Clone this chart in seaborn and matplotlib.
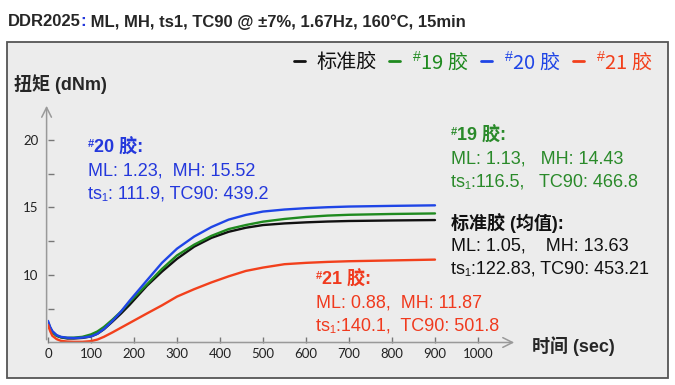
import matplotlib
matplotlib.use("Agg")
import pandas as pd
import seaborn as sns
import matplotlib.pyplot as plt
from matplotlib.patches import Rectangle

# time (s) and torque (dNm)
time_s = [0, 5, 10, 20, 30, 45, 60, 80, 100, 115, 130, 150, 170, 190, 210,
          230, 265, 300, 340, 380, 420, 460, 500, 550, 600, 650, 700, 800, 900]
torque_std = [6.5, 6.1, 5.8, 5.5, 5.38, 5.3, 5.3, 5.34, 5.45, 5.65, 5.98, 6.55, 7.15, 7.8, 8.5,
              9.2, 10.25, 11.2, 12.1, 12.75, 13.2, 13.5, 13.7, 13.82, 13.9, 13.96, 14.0, 14.04, 14.07]
torque_19 = [6.3, 6.0, 5.75, 5.5, 5.4, 5.35, 5.36, 5.42, 5.6, 5.82, 6.15, 6.7, 7.3, 8.0, 8.65,
             9.3, 10.45, 11.45, 12.25, 12.9, 13.4, 13.7, 13.95, 14.15, 14.3, 14.4, 14.46, 14.52, 14.56]
torque_20 = [6.6, 6.15, 5.85, 5.55, 5.42, 5.35, 5.33, 5.36, 5.45, 5.65, 6.0, 6.6, 7.3, 8.1, 8.85,
             9.6, 10.9, 11.95, 12.85, 13.55, 14.1, 14.45, 14.7, 14.85, 14.95, 15.02, 15.07, 15.12, 15.16]
torque_21 = [6.3, 5.85, 5.5, 5.25, 5.12, 5.07, 5.05, 5.05, 5.1, 5.22, 5.42, 5.75, 6.1, 6.45, 6.8,
             7.15, 7.75, 8.4, 8.95, 9.45, 9.9, 10.3, 10.55, 10.8, 10.9, 10.97, 11.02, 11.08, 11.14]

series_names = ["标准胶", "${}^{\\#}$19 胶", "${}^{\\#}$20 胶", "${}^{\\#}$21 胶"]
series_colors = ["#111111", "#1f8a1f", "#1f45e6", "#f2401c"]

x_ticks = [0, 100, 200, 300, 400, 500, 600, 700, 800, 900, 1000]
y_ticks = [7.5, 10, 12.5, 15, 17.5, 20]
y_tick_labels = ["", "10", "", "15", "", "20"]

blocks = [
    # (x px, y px of first line, color, lines) -- a leading "#" is drawn as superscript
    (88, 148, "#2438dc", ["#20 胶:", "ML: 1.23,  MH: 15.52", "ts₁: 111.9, TC90: 439.2"]),
    (451, 136, "#2a8a2a", ["#19 胶:", "ML: 1.13,   MH: 14.43", "ts₁:116.5,   TC90: 466.8"]),
    (451, 223, "#111111", ["标准胶 (均值):", "ML: 1.05,    MH: 13.63", "ts₁:122.83, TC90: 453.21"]),
    (316, 280, "#f03a1e", ["#21 胶:", "ML: 0.88,  MH: 11.87", "ts₁:140.1,  TC90: 501.8"]),
]

frames = []
for name, vals in zip(series_names, [torque_std, torque_19, torque_20, torque_21]):
    frames.append(pd.DataFrame({"time": time_s, "torque": vals, "sample": name}))
df = pd.concat(frames, ignore_index=True)

sns.set_style("white")
plt.rcParams['font.family'] = ['Liberation Sans', 'Noto Sans CJK SC', 'DejaVu Sans']
plt.rcParams['mathtext.fontset'] = 'custom'
plt.rcParams['mathtext.rm'] = 'Liberation Sans'
plt.rcParams['mathtext.it'] = 'Liberation Sans:italic'
plt.rcParams['mathtext.bf'] = 'Liberation Sans:bold'

W, H = 675, 385
fig = plt.figure(figsize=(W / 100, H / 100), dpi=100)
fig.patch.set_facecolor("white")


def fx(px):
    return px / W


def fy(py):
    return 1 - py / H


# grey slide panel
fig.add_artist(Rectangle((fx(7), fy(378)), fx(668) - fx(7), fy(42) - fy(378),
                         transform=fig.transFigure, facecolor="#ececec",
                         edgecolor="#555555", linewidth=1.3, zorder=-1))

ax = fig.add_axes([fx(48), 42.5 / H, 469 / W, 239.5 / H])
ax.set_facecolor("none")

sns.lineplot(data=df, x="time", y="torque", hue="sample", hue_order=series_names,
             palette=series_colors, linewidth=1.7, ax=ax)

ax.set_xlim(0, 1090.7)
ax.set_ylim(5, 22.74)
for s in ax.spines.values():
    s.set_visible(False)

arrow = dict(arrowstyle="->,head_length=0.7,head_width=0.35", color="#999999", lw=1.1)
ax.annotate("", xy=(1, 0), xytext=(-0.003, 0), xycoords="axes fraction", arrowprops=arrow)
ax.annotate("", xy=(-0.003, 1), xytext=(-0.003, 0), xycoords="axes fraction", arrowprops=arrow)

ax.set_xticks(x_ticks)
ax.set_xticklabels([str(v) for v in x_ticks], family="Lato", fontsize=9.5, color="#222222")
ax.set_yticks(y_ticks)
ax.set_yticklabels(y_tick_labels, family="Lato", fontsize=9.5, color="#222222")
ax.tick_params(axis="both", direction="in", length=4.5, width=1, color="#777777",
               bottom=True, left=True)
ax.tick_params(axis="x", pad=4)
ax.tick_params(axis="y", pad=7)
ax.set_xlabel("")
ax.set_ylabel("")

# legend along the top
handles, labels = ax.get_legend_handles_labels()
for h in handles:
    h.set_linewidth(2)
ax.legend(handles, labels, ncol=4, frameon=False, loc="center right",
          bbox_to_anchor=(fx(653), fy(62)), bbox_transform=fig.transFigure,
          borderaxespad=0, borderpad=0, handlelength=0.55, handletextpad=0.6,
          columnspacing=0.6, prop={"family": ["Noto Sans CJK SC", "DejaVu Sans"], "size": 14.5},
          labelcolor=series_colors)

# axis titles
fig.text(fx(14), fy(84), "扭矩 (dNm)", fontsize=13, weight="bold", va="center", ha="left")
fig.text(fx(532), fy(346), "时间 (sec)", fontsize=13, weight="bold", va="center", ha="left")

# title with the blue colon
t1 = fig.text(fx(8), fy(22), "DDR2025", fontsize=12, weight="bold", va="center", ha="left")
t2 = ax.annotate(":", xy=(1, 0), xycoords=t1, va="bottom", ha="left",
                 fontsize=12, weight="bold", color="#2438dc")
ax.annotate(" ML, MH, ts1, TC90 @ ±7%, 1.67Hz, 160°C, 15min", xy=(1, 0), xycoords=t2,
            va="bottom", ha="left", fontsize=12, weight="bold")

# value boxes
for x0, y0, col, lines in blocks:
    for i, line in enumerate(lines):
        y = y0 + i * 23
        weight = "bold" if i == 0 else "normal"
        if line.startswith("#"):
            fig.text(fx(x0), fy(y - 4), "#", color=col, fontsize=8, weight="bold",
                     va="center", ha="left")
            fig.text(fx(x0 + 6), fy(y), line[1:], color=col, fontsize=13, weight=weight,
                     va="center", ha="left")
        else:
            fig.text(fx(x0), fy(y), line, color=col, fontsize=13, weight=weight,
                     va="center", ha="left")

fig.savefig("out.png", dpi=100)
